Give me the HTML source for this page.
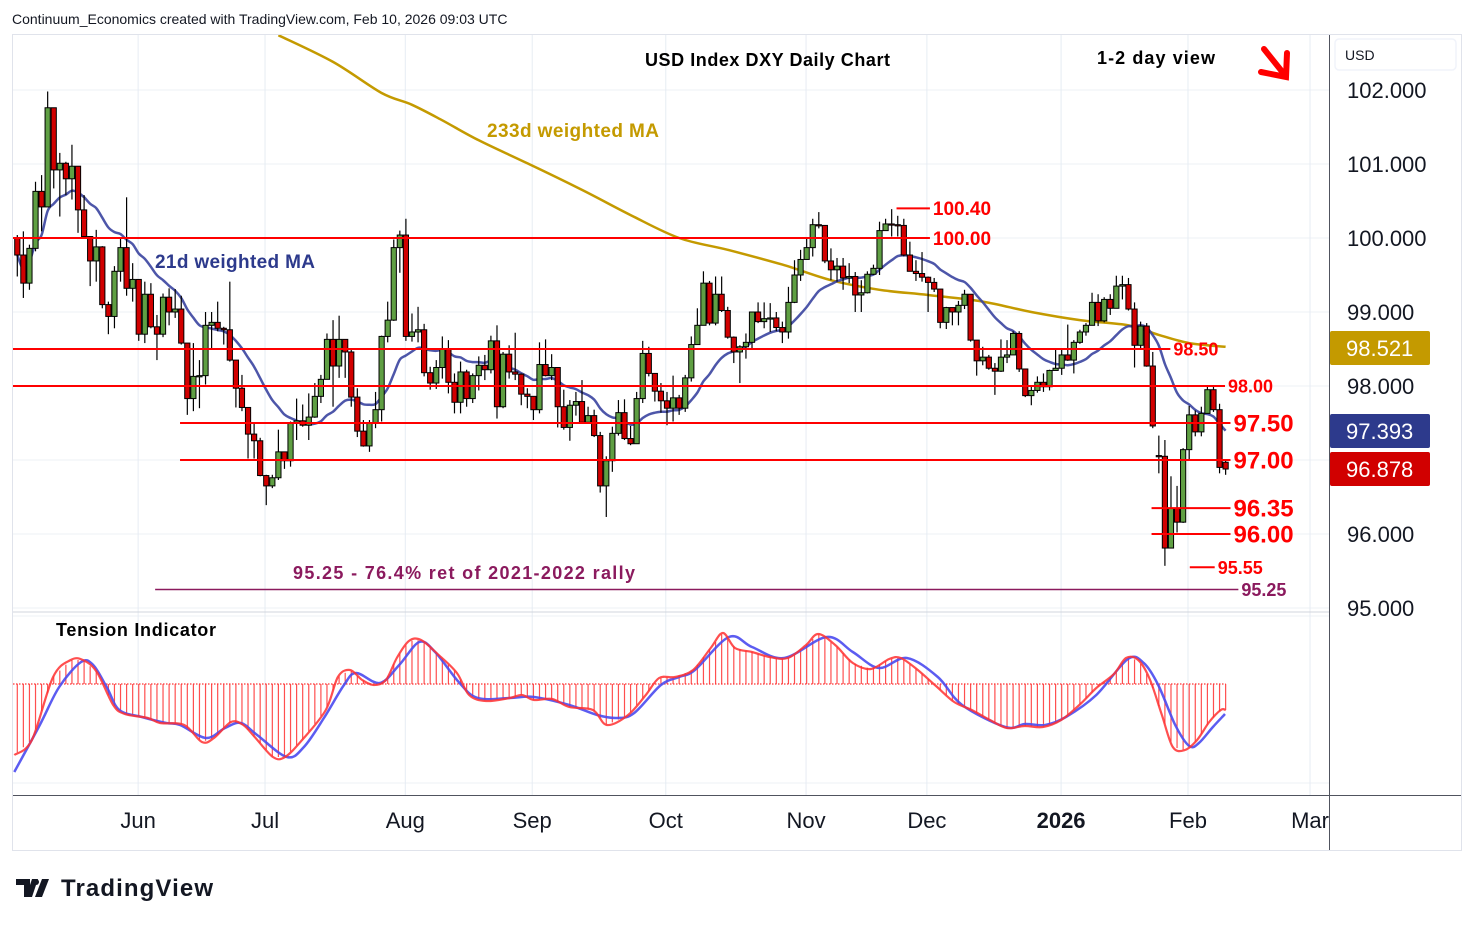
<!DOCTYPE html>
<html><head><meta charset="utf-8"><title>USD Index DXY Daily Chart</title>
<style>
html,body{margin:0;padding:0;background:#fff;}
body{width:1474px;height:925px;overflow:hidden;font-family:"Liberation Sans",sans-serif;}
svg text{font-family:"Liberation Sans",sans-serif;}
</style></head>
<body>
<svg id="chart" width="1474" height="925" viewBox="0 0 1474 925" xmlns="http://www.w3.org/2000/svg">
<defs>
<clipPath id="pclip"><rect x="13" y="35" width="1316" height="576"/></clipPath>
<clipPath id="iclip"><rect x="13" y="616" width="1316" height="178"/></clipPath>
<clipPath id="tclip"><rect x="13" y="796" width="1316" height="54"/></clipPath>
</defs>
<rect x="0" y="0" width="1474" height="925" fill="#fff"/>
<text x="12" y="24" font-size="14" fill="#131722">Continuum_Economics created with TradingView.com, Feb 10, 2026 09:03 UTC</text>
<rect x="12.5" y="34.5" width="1449" height="816" fill="none" stroke="#e0e3eb"/>
<g id="grid"></g>
<g id="price" clip-path="url(#pclip)"></g>
<g id="levels"></g>
<g id="ind" clip-path="url(#iclip)"></g>
<line x1="13" y1="612" x2="1329" y2="612" stroke="#d1d4dc" stroke-width="1"/>
<line x1="13" y1="795.5" x2="1461" y2="795.5" stroke="#50535e" stroke-width="1"/>
<line x1="1329.5" y1="35" x2="1329.5" y2="850" stroke="#50535e" stroke-width="1"/>
<g id="yaxis"></g>
<g id="xaxis" clip-path="url(#tclip)"></g>
<rect x="1335" y="39" width="121" height="31" rx="4" fill="#fff" stroke="#f0f3fa" stroke-width="1.5"/>
<text x="1345" y="60" font-size="14" fill="#131722">USD</text>
<text x="645" y="66" font-size="18" font-weight="bold" fill="#000" textLength="245">USD Index DXY Daily Chart</text>
<text x="1097" y="64" font-size="18" font-weight="bold" fill="#000" textLength="118">1-2 day view</text>
<g stroke="#ff0000" stroke-width="6" stroke-linecap="round" fill="none">
<line x1="1264" y1="49" x2="1284" y2="74"/><polyline points="1261,72 1286,77 1287,53"/>
</g>
<text x="487" y="137" font-size="19" font-weight="bold" fill="#c49a00" textLength="172">233d weighted MA</text>
<text x="155" y="268" font-size="19" font-weight="bold" fill="#2d3a8c" textLength="160">21d weighted MA</text>
<text x="56" y="636" font-size="18" fill="#000" font-weight="bold" textLength="160">Tension Indicator</text>
<g>
<path d="M16 879h14v18h-6v-12h-8z M32 879h6l-6 18h-6z" fill="#131722"/>
<circle cx="36" cy="882" r="3" fill="#131722"/>
<path d="M42 879h7l-7 18h-7z" fill="#131722"/>
<text x="61" y="896" font-size="24" font-weight="bold" fill="#131722" textLength="152">TradingView</text>
</g>
</svg>
<script>
// ---- price data (bar index 0..199) ----
const closes=[99.77,99.39,99.86,100.63,100.42,101.76,100.92,101.01,100.80,100.97,
100.38,100.02,99.69,99.88,99.10,98.94,99.55,99.87,99.32,99.44,
98.70,99.24,98.80,98.70,99.20,99.0,99.04,98.58,97.83,98.13,
98.14,98.82,98.86,98.78,98.76,98.35,97.97,97.71,97.35,97.26,
96.79,96.65,96.76,97.11,96.99,97.50,97.53,97.47,97.58,97.86,
98.09,98.63,98.27,98.63,98.46,97.85,97.39,97.19,97.50,97.68,
98.67,98.89,99.87,100.04,98.67,98.73,98.76,98.18,98.04,98.25,
98.50,98.05,97.78,98.19,97.83,98.14,98.28,98.22,98.61,97.72,
98.43,98.19,98.16,97.89,97.86,97.68,98.29,98.14,98.25,97.72,
97.44,97.74,97.79,97.51,97.60,97.33,96.65,96.99,97.36,97.64,
97.29,97.22,97.83,98.44,98.17,97.93,97.80,97.70,97.84,97.70,
98.11,98.56,98.82,99.39,98.85,99.24,99.02,98.66,98.46,98.53,
98.59,99.0,98.87,98.91,98.92,98.79,98.73,99.13,99.50,99.71,
99.87,100.18,100.17,99.69,99.57,99.62,99.46,99.48,99.23,99.26,
99.51,99.59,100.10,100.19,100.18,100.17,99.77,99.55,99.52,99.47,
99.40,99.31,98.86,99.06,99.0,99.09,99.24,98.62,98.34,98.39,
98.24,98.20,98.39,98.42,98.71,98.23,97.87,97.94,98.05,97.99,
98.21,98.24,98.42,98.35,98.59,98.73,98.82,99.13,98.88,99.17,
99.05,99.35,99.37,99.04,98.55,98.81,98.27,97.46,97.05,95.81,
96.35,96.16,97.14,97.61,97.38,97.63,97.95,97.68,96.90,96.878];
const highs=[100.04,100.09,99.91,100.76,100.85,101.98,101.75,101.15,101.03,101.26,
100.92,100.58,100.0,100.11,99.89,99.14,99.62,100.0,100.55,99.66,
99.41,99.41,99.39,98.96,99.25,99.32,99.31,99.22,98.58,98.58,
98.35,99.0,99.0,99.14,98.80,99.41,98.29,98.15,97.61,97.50,
97.30,96.80,96.80,97.41,97.11,97.52,97.83,97.75,97.90,98.04,
98.15,98.71,98.89,98.95,98.58,98.49,97.97,97.54,97.54,97.92,
98.68,99.14,99.98,100.10,100.26,98.98,99.07,98.84,98.26,98.35,
98.67,98.62,98.17,98.33,98.22,98.17,98.40,98.42,98.68,98.82,
98.46,98.55,98.72,98.17,97.97,97.86,98.59,98.63,98.43,98.25,
97.95,97.81,97.92,98.08,97.72,97.68,97.38,97.05,97.45,97.81,
97.82,97.46,97.92,98.61,98.53,98.17,98.04,97.92,98.14,97.88,
98.15,98.67,99.05,99.55,99.42,99.48,99.48,99.07,98.67,98.55,
98.71,98.98,99.13,99.13,99.12,99.0,98.87,99.34,99.70,99.84,
99.99,100.26,100.35,100.13,99.86,99.73,99.73,99.66,99.54,99.43,
99.55,99.64,100.22,100.26,100.39,100.30,100.26,99.95,99.70,99.81,
99.48,99.46,99.28,99.07,99.06,99.15,99.30,99.24,98.55,98.53,
98.42,98.31,98.63,98.62,98.74,98.74,98.19,98.01,98.13,98.17,
98.22,98.49,98.50,98.83,98.62,98.76,98.85,99.26,99.24,99.20,
99.24,99.49,99.49,99.46,99.13,98.87,98.85,98.46,97.33,97.27,
96.78,96.65,97.16,97.73,97.67,97.72,97.99,97.99,97.76,97.0];
const lows=[99.48,99.19,99.30,99.82,100.09,100.52,100.67,100.29,100.58,100.52,
100.07,100.0,99.35,99.41,99.05,98.70,98.78,99.41,99.22,99.14,
98.61,98.58,98.78,98.35,98.66,98.82,98.92,98.56,97.61,97.66,
97.70,98.02,98.51,98.74,98.56,98.33,97.71,97.66,97.02,97.02,
96.78,96.39,96.62,96.73,96.88,96.91,97.27,97.45,97.27,97.57,
97.77,98.13,97.72,98.11,98.11,97.72,97.31,97.18,97.11,97.43,
97.52,98.59,98.88,99.53,98.61,98.60,98.59,98.13,97.95,97.96,
98.10,97.90,97.63,97.63,97.72,97.77,97.94,98.08,98.17,97.56,
97.70,98.10,98.08,97.74,97.70,97.54,97.63,98.13,98.08,97.44,
97.41,97.26,97.60,97.49,97.50,97.31,96.56,96.23,96.84,97.33,
97.27,97.20,97.23,97.77,98.13,97.79,97.64,97.47,97.52,97.61,
97.65,98.06,98.60,98.82,98.82,98.82,99.0,98.64,98.31,98.04,
98.37,98.51,98.85,98.78,98.73,98.74,98.58,98.64,99.12,99.42,
99.75,99.75,100.13,99.66,99.43,99.41,99.30,99.39,99.0,99.0,
99.25,99.50,99.50,100.15,100.02,100.02,99.75,99.55,99.42,99.41,
99.0,99.27,98.78,98.77,98.82,98.82,99.04,98.60,98.14,98.28,
98.22,97.88,98.19,98.31,98.42,98.19,97.85,97.74,97.91,97.92,
97.94,98.22,98.15,98.34,98.17,98.57,98.68,98.89,98.81,98.86,
98.96,99.09,99.17,99.02,98.25,98.51,98.26,97.43,96.82,95.57,
95.87,96.02,96.15,97.01,97.32,97.32,97.67,97.65,96.82,96.80];
const firstOpen=100.0;
const openOverrideIdx=[188,199];
const openOverrideVal=[97.06,96.97];
// 233d weighted MA
const ma233Idx=[43,52,60,65,70,76,84,93,101,109,117,126,134,142,150,159,167,175,183,188,193,199];
const ma233Val=[102.74,102.38,101.96,101.80,101.59,101.32,101.01,100.65,100.31,100.0,99.84,99.64,99.43,99.30,99.23,99.14,99.0,98.89,98.82,98.69,98.58,98.53];
// price axis ticks
const priceTicks=[102,101,100,99,98,97,96,95];
const priceTickLabels=["102.000","101.000","100.000","99.000","98.000","97.000","96.000","95.000"];
// time axis
const monthLabels=["Jun","Jul","Aug","Sep","Oct","Nov","Dec","2026","Feb","Mar"];
const monthIdx=[19.9,40.8,63.9,84.8,106.8,129.9,149.8,171.9,192.8,212.9];
// key levels
const levelVals=[100.40,100.00,98.50,98.00,97.50,97.00,96.35,96.00,95.55,95.25];
const levelText=["100.40","100.00","98.50","98.00","97.50","97.00","96.35","96.00","95.55","95.25"];
const levelStartIdx=[144.8,-1,-1,-1,26.8,26.8,186.8,186.8,193.1,22.7];
const levelEndIdx=[150.3,150.3,189.9,198.9,199.8,199.8,199.8,199.8,197.2,201.1];
// tension indicator (fast = red, slow = blue)
const tFastIdx=[-0.5,2.4,5.9,8.8,10.8,13.1,15.8,17.7,21.5,23.5,27.5,30.4,32.4,35.2,37.2,39.1,42.1,44.1,46.9,50.8,52.8,54.8,56.8,58.7,60.7,62.5,64.5,66.5,69.4,72.4,74.4,77.2,81.1,83.1,85.1,88.1,90.9,94.8,97.1,100.6,103.5,105.7,108.3,111.3,114.2,116.2,118.2,121.0,123.9,126.9,129.9,131.9,134.7,137.6,140.6,143.6,145.5,148.3,151.3,154.3,157.2,160.2,163.0,165.9,168.9,171.9,174.9,177.7,180.6,182.6,184.6,186.5,188.5,190.3,192.3,194.3,196.3,198.2,199];
const tFastVal=[-7.1,-5.6,0.7,2.4,2.4,1.2,-2.1,-3.0,-3.4,-3.9,-4.1,-5.8,-5.4,-3.8,-4.1,-5.3,-7.3,-7.3,-5.6,-2.6,0.7,1.4,0.4,-0.1,0.4,2.6,4.3,4.4,2.9,1.1,-1.1,-1.7,-1.4,-1.1,-1.6,-1.5,-2.3,-2.6,-4.1,-3.1,-1.1,0.6,0.7,1.4,3.6,5.1,3.6,3.2,2.7,2.6,3.9,5.0,3.9,2.1,1.5,2.5,2.6,1.4,-0.2,-1.8,-2.6,-3.6,-4.4,-4.2,-4.3,-3.6,-2.1,-0.4,1.0,2.6,2.4,0.5,-3.1,-6.3,-6.6,-5.6,-3.8,-2.6,-2.6];
const tSlowIdx=[-0.5,3.7,6.9,10.5,12.5,14.8,16.8,20.5,24.5,26.8,31.1,34.2,36.8,39.5,44.4,47.2,50.5,53.8,55.8,59.7,62.9,66.2,68.8,72.7,75.8,81.1,85.1,90.9,95.5,98.8,101.6,106.0,109.0,111.6,117.2,121.0,126.3,133.3,137.6,141.9,146.5,151.6,155.6,162.7,166.0,169.3,172.7,177.7,182.9,185.5,187.9,190.7,193.0,194.6,196.9,198.9];
const tSlowVal=[-8.8,-4.1,-0.3,2.2,1.9,-0.4,-2.6,-3.3,-3.9,-4.1,-5.4,-4.4,-3.9,-5.1,-7.3,-6.3,-3.4,-0.1,1.1,0.1,1.9,4.2,3.2,0.2,-1.4,-1.4,-1.3,-2.1,-3.1,-3.4,-2.9,-0.1,0.7,1.4,4.7,3.7,2.6,4.7,3.2,1.6,2.6,0.7,-2.1,-4.3,-4.0,-4.1,-3.3,-1.1,2.5,2.1,-0.1,-4.1,-6.2,-5.9,-4.3,-3.0];

const NS="http://www.w3.org/2000/svg";
const X0=17.3, STEP=6.072;
function xAt(i){return X0+i*STEP;}
function yP(p){return 90+(102-p)*74;}
function yT(v){return 684-v*10;}
function mk(tag,attrs,parent){const e=document.createElementNS(NS,tag);for(const k in attrs)e.setAttribute(k,attrs[k]);parent.appendChild(e);return e;}
function smoothPath(P){
  let d='M'+P[0][0].toFixed(1)+','+P[0][1].toFixed(1);
  for(let i=0;i<P.length-1;i++){
    const p0=P[Math.max(i-1,0)],p1=P[i],p2=P[i+1],p3=P[Math.min(i+2,P.length-1)];
    const c1x=p1[0]+(p2[0]-p0[0])/6,c1y=p1[1]+(p2[1]-p0[1])/6;
    const c2x=p2[0]-(p3[0]-p1[0])/6,c2y=p2[1]-(p3[1]-p1[1])/6;
    d+=' C'+c1x.toFixed(1)+','+c1y.toFixed(1)+' '+c2x.toFixed(1)+','+c2y.toFixed(1)+' '+p2[0].toFixed(1)+','+p2[1].toFixed(1);
  }
  return d;
}

const grid=document.getElementById('grid');
const price=document.getElementById('price');
const levels=document.getElementById('levels');
const ind=document.getElementById('ind');
const yaxis=document.getElementById('yaxis');
const xaxis=document.getElementById('xaxis');

priceTicks.forEach(p=>{
  const l=mk('line',{x1:13,x2:1329,y1:yP(p),y2:yP(p),stroke:'#edf0f6','stroke-width':1},grid);
  
  
});
[616,783].forEach(yv=>{
  const l=mk('line',{x1:13,x2:1329,y1:yv,y2:yv,stroke:'#edf0f6','stroke-width':1},grid);
  
  
});
monthIdx.forEach(mi=>{
  const l=mk('line',{x1:xAt(mi),x2:xAt(mi),y1:35,y2:795,stroke:'#e6ecf3','stroke-width':1},grid);
  
  
});

const opens=closes.map((c,i)=>i===0?firstOpen:closes[i-1]);
openOverrideIdx.forEach((ix,k)=>{opens[ix]=openOverrideVal[k];});

{
  const P=ma233Idx.map((ix,k)=>[xAt(ix),yP(ma233Val[k])]);
  const pl=mk('path',{d:smoothPath(P),fill:'none',stroke:'#c49a00','stroke-width':2.5,'stroke-linejoin':'round'},price);
  
  
}
{
  const P=[];
  for(let i=0;i<closes.length;i++){
    let s=0,w=0;
    for(let k=0;k<21&&i-k>=0;k++){const wt=21-k;s+=closes[i-k]*wt;w+=wt;}
    P.push([xAt(i),yP(s/w)]);
  }
  const pl=mk('path',{d:smoothPath(P),fill:'none',stroke:'#3a44a0','stroke-width':2.5,'stroke-opacity':0.9},price);
  
  
}
for(let i=0;i<closes.length;i++){
  const o=opens[i],c=closes[i];
  const h=Math.max(highs[i],o,c),l=Math.min(lows[i],o,c);
  const g=mk('g',{},price);
  
  
  const x=xAt(i);
  mk('line',{x1:x,x2:x,y1:yP(h),y2:yP(l),stroke:'#000','stroke-width':1.2},g);
  const top=yP(Math.max(o,c)),bot=yP(Math.min(o,c));
  mk('rect',{x:x-2.6,y:top,width:5.2,height:Math.max(bot-top,1.2),fill:c>=o?'#5f9f43':'#d10000',stroke:'#000','stroke-width':1},g);
}

levelVals.forEach((v,k)=>{
  const purple=(v===95.25);
  const col=purple?'#8b1a5e':'#ff0000';
  const x1=levelStartIdx[k]<0?13:xAt(levelStartIdx[k]);
  const x2=xAt(levelEndIdx[k]);
  const ln=mk('line',{x1:x1,x2:x2,y1:yP(v),y2:yP(v),stroke:col,'stroke-width':purple?1.6:2},levels);
  
  
  const big=(v===97.5||v===97.0||v===96.35||v===96.0);
  const fs=big?24:(v>=100?19:18);
  const t=mk('text',{x:x2+3,y:yP(v)+fs*0.36,'font-size':fs,'font-weight':'bold',fill:col},levels);
  t.textContent=levelText[k];
  
  
});
{
  const t=mk('text',{x:293,y:579,'font-size':18,'font-weight':'bold',fill:'#8b1a5e',textLength:342},levels);
  t.textContent='95.25 - 76.4% ret of 2021-2022 rally';
  
  
}

priceTicks.forEach((p,k)=>{
  const t=mk('text',{x:1347,y:yP(p)+8,'font-size':22,fill:'#131722'},yaxis);
  t.textContent=priceTickLabels[k];
  
  
});
const boxes=[[98.521,'#c49a00','98.521',348],[97.393,'#2d3a8c','97.393',431],[96.878,'#d10000','96.878',469]];
boxes.forEach(b=>{
  const r=mk('rect',{x:1330,y:b[3]-17,width:100,height:34,rx:2,fill:b[1]},yaxis);
  
  
  const t=mk('text',{x:1346,y:b[3]+8,'font-size':22,fill:'#fff'},yaxis);
  t.textContent=b[2];
  
  
});

monthLabels.forEach((m,k)=>{
  const t=mk('text',{x:xAt(monthIdx[k]),y:828,'font-size':22,'text-anchor':'middle',fill:'#131722','font-weight':m==='2026'?'bold':'normal'},xaxis);
  t.textContent=m;
  
  
});

function interp(ix,iv,i){
  if(i<=ix[0])return iv[0];
  for(let k=1;k<ix.length;k++){if(i<=ix[k]){const f=(i-ix[k-1])/(ix[k]-ix[k-1]);return iv[k-1]+f*(iv[k]-iv[k-1]);}}
  return iv[iv.length-1];
}
{
  const zl=mk('line',{x1:13,x2:xAt(199),y1:684,y2:684,stroke:'#ff0000','stroke-width':1,'stroke-dasharray':'1.5,1.5'},ind);
  
  
  for(let i=0;i<closes.length;i++){
    const v=interp(tFastIdx,tFastVal,i);
    const h=mk('line',{x1:xAt(i),x2:xAt(i),y1:684,y2:yT(v),stroke:'#ff3030','stroke-width':1.2,'stroke-opacity':0.85},ind);
    
    
  }
  const SP=tSlowIdx.map((ix,k)=>[xAt(ix),yT(tSlowVal[k])]);
  const s=mk('path',{d:smoothPath(SP),fill:'none',stroke:'#4a4af0','stroke-width':2.5,'stroke-opacity':0.9},ind);
  
  
  const FP=tFastIdx.map((ix,k)=>[xAt(ix),yT(tFastVal[k])]);
  const f=mk('path',{d:smoothPath(FP),fill:'none',stroke:'#ff3030','stroke-width':2.2,'stroke-opacity':0.85},ind);
  
  
}
</script>
</body></html>
